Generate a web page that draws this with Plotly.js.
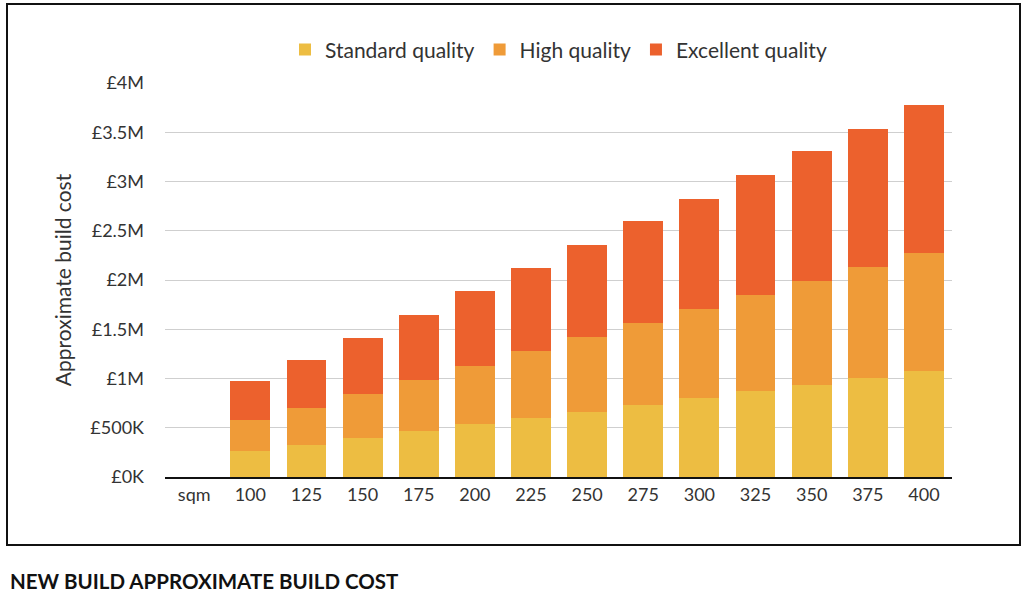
<!DOCTYPE html>
<html>
<head>
<meta charset="utf-8">
<script src="https://cdn.plot.ly/plotly-3.0.1.min.js"></script>
<style>
  html, body { margin: 0; padding: 0; background: #fff; }
  #chart { width: 1024px; height: 612px; }
</style>
</head>
<body>
<div id="chart"></div>
<script>
// floor area categories (first slot is the "sqm" unit label, no bar)
const sizes = ['sqm', '100', '125', '150', '175', '200', '225', '250', '275', '300', '325', '350', '375', '400'];

// cost per quality band, in £
const standard  = [null, 261000, 322000, 399000, 463000, 535000, 602000, 663000, 734000, 805000, 876000, 937000, 1008000, 1079000];
const high      = [null, 320000, 381000, 443000, 525000, 591000, 678000, 757000, 831000, 903000, 971000, 1052000, 1123000, 1194000];
const excellent = [null, 393000, 487000, 568000, 656000, 761000, 840000, 934000, 1033000, 1119000, 1224000, 1316000, 1407000, 1504000];

const yTicks  = [0, 500000, 1000000, 1500000, 2000000, 2500000, 3000000, 3500000, 4000000];
const yLabels = ['£0K', '£500K', '£1M', '£1.5M', '£2M', '£2.5M', '£3M', '£3.5M', '£4M'];

const font = 'Lato, "Open Sans", sans-serif';

function bar(name, vals, color) {
    return {
        type: 'bar',
        name: name,
        x: sizes,
        y: vals,
        marker: {color: color},
        hoverinfo: 'skip'
    };
}

const data = [
    bar('Standard quality', standard, '#EDBD42'),
    bar('High quality', high, '#EF9B38'),
    bar('Excellent quality', excellent, '#EC612D')
];

const layout = {
    width: 1024,
    height: 612,
    barmode: 'stack',
    bargap: 0.29,
    paper_bgcolor: '#fff',
    plot_bgcolor: '#fff',
    margin: {l: 165, r: 72, t: 83, b: 135},
    font: {family: font, size: 18, color: '#333'},
    title: {
        text: '<b>NEW BUILD APPROXIMATE BUILD COST</b>',
        font: {family: font, size: 20.5, color: '#111'},
        x: 10 / 1024, xanchor: 'left', xref: 'container',
        y: 1 - 582 / 612, yanchor: 'middle', yref: 'container'
    },
    showlegend: true,
    legend: {
        orientation: 'h',
        x: 0.5, xanchor: 'center',
        y: 1.084, yanchor: 'middle',
        traceorder: 'normal',
        font: {family: font, size: 21, color: '#333'}
    },
    xaxis: {
        type: 'category',
        range: [-0.52, 13.5],
        showgrid: false,
        showline: true,
        linecolor: '#111',
        linewidth: 2,
        ticks: '',
        tickfont: {family: font, size: 18, color: '#333'},
        fixedrange: true
    },
    yaxis: {
        range: [0, 4000000],
        tickvals: yTicks,
        ticktext: yLabels,
        showgrid: true,
        gridcolor: '#cfcfcf',
        gridwidth: 1,
        zeroline: false,
        showline: false,
        ticks: '',
        ticklabelstandoff: 20,
        tickfont: {family: font, size: 18, color: '#333'},
        title: {text: 'Approximate build cost', font: {family: font, size: 21, color: '#333'}, standoff: 12},
        fixedrange: true
    },
    shapes: [{
        type: 'rect',
        xref: 'paper', yref: 'paper',
        x0: (7 - 165) / 787, x1: (1020 - 165) / 787,
        y0: (477 - 545) / 394, y1: (477 - 4) / 394,
        line: {color: '#111', width: 2},
        fillcolor: 'rgba(0,0,0,0)',
        layer: 'below'
    }]
};

Plotly.newPlot('chart', data, layout, {displayModeBar: false, staticPlot: true});
</script>
</body>
</html>
